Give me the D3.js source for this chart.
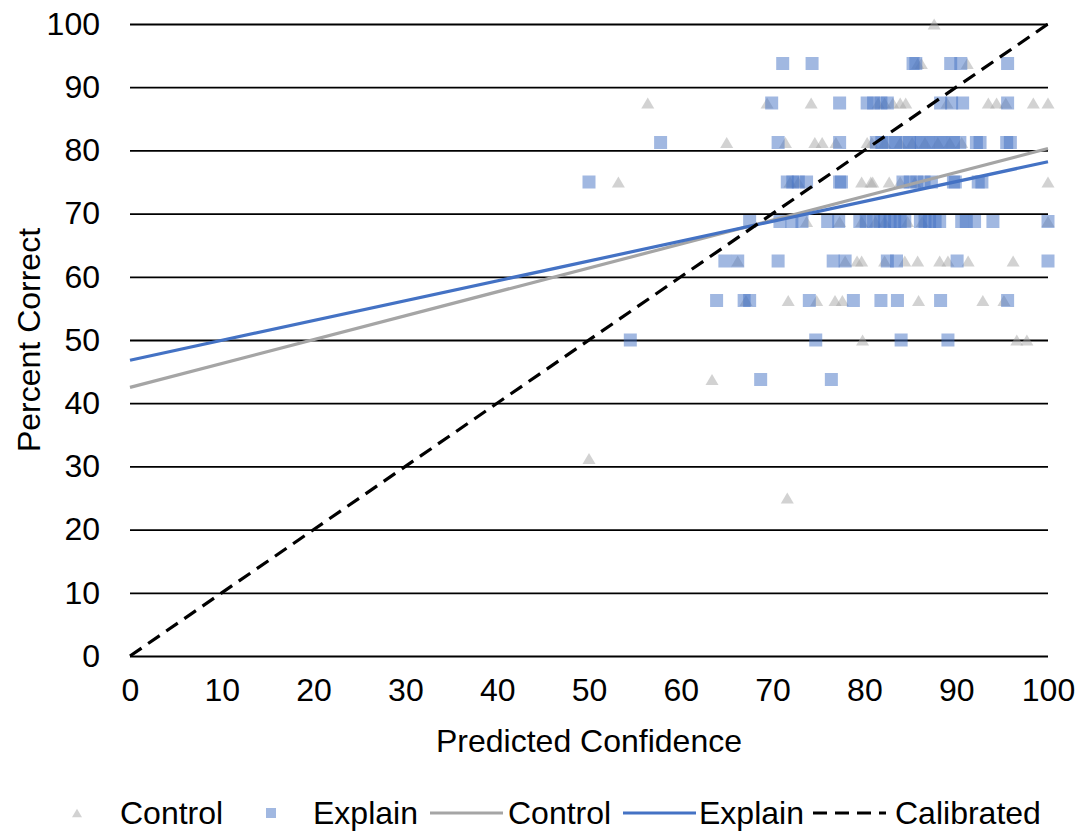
<!DOCTYPE html>
<html>
<head>
<meta charset="utf-8">
<script src="https://cdn.jsdelivr.net/npm/d3@7"></script>
<style>
  html, body { margin: 0; padding: 0; background: #fff; }
  svg { display: block; font-family: "Liberation Sans", Arial, sans-serif; }
</style>
</head>
<body>
<svg id="chart" width="1080" height="833"></svg>
<script>
// Individual responses: [predicted confidence, percent correct]
const controlPoints = [
  [87.6, 100],
  [85.8, 93.75], [86.2, 93.75], [91.2, 93.75],
  [56.4, 87.5], [69.4, 87.5], [74.2, 87.5], [81.5, 87.5], [82.2, 87.5], [83.1, 87.5],
  [83.9, 87.5], [84.5, 87.5], [89.0, 87.5], [93.5, 87.5], [94.4, 87.5], [95.4, 87.5],
  [98.4, 87.5], [100, 87.5],
  [65.0, 81.25], [71.4, 81.25], [74.6, 81.25], [75.4, 81.25], [76.9, 81.25], [80.3, 81.25],
  [80.8, 81.25], [82.2, 81.25], [83.9, 81.25], [85.2, 81.25], [86.6, 81.25], [88.0, 81.25],
  [89.3, 81.25], [90.6, 81.25],
  [53.2, 75], [71.9, 75], [72.8, 75], [79.7, 75], [80.7, 75], [80.9, 75], [82.7, 75],
  [83.9, 75], [85.5, 75], [100, 75],
  [73.7, 68.75], [77.3, 68.75], [79.7, 68.75], [81.2, 68.75], [82.2, 68.75], [84.7, 68.75],
  [86.3, 68.75], [100, 68.75],
  [66.2, 62.5], [77.9, 62.5], [79.2, 62.5], [79.7, 62.5], [82.2, 62.5], [84.4, 62.5],
  [85.8, 62.5], [88.2, 62.5], [89.1, 62.5], [91.3, 62.5], [96.2, 62.5],
  [67.1, 56.25], [71.7, 56.25], [74.8, 56.25], [76.8, 56.25], [77.6, 56.25], [85.9, 56.25],
  [92.9, 56.25], [95.2, 56.25],
  [79.8, 50], [96.6, 50], [97.7, 50],
  [63.4, 43.75],
  [50.0, 31.25],
  [71.6, 25]
];

const explainPoints = [
  [71.1, 93.75], [74.3, 93.75], [85.3, 93.75], [85.6, 93.75], [89.4, 93.75], [90.5, 93.75],
  [95.6, 93.75],
  [69.9, 87.5], [77.3, 87.5], [80.3, 87.5], [81.0, 87.5], [81.8, 87.5], [82.5, 87.5],
  [88.3, 87.5], [89.5, 87.5], [90.7, 87.5], [95.6, 87.5],
  [57.8, 81.25], [70.6, 81.25], [77.3, 81.25], [81.3, 81.25], [81.9, 81.25], [82.7, 81.25],
  [83.4, 81.25], [84.1, 81.25], [84.9, 81.25], [85.5, 81.25], [86.2, 81.25], [86.9, 81.25],
  [87.6, 81.25], [88.3, 81.25], [89.0, 81.25], [89.7, 81.25], [90.4, 81.25], [92.2, 81.25],
  [92.6, 81.25], [95.5, 81.25], [95.9, 81.25],
  [50.0, 75], [71.6, 75], [72.2, 75], [72.8, 75], [73.7, 75], [77.3, 75], [77.5, 75],
  [84.2, 75], [85.0, 75], [85.7, 75], [86.5, 75], [87.3, 75], [89.7, 75], [89.9, 75],
  [92.4, 75], [92.8, 75],
  [67.5, 68.75], [70.8, 68.75], [72.1, 68.75], [73.2, 68.75], [76.0, 68.75], [77.2, 68.75],
  [79.5, 68.75], [80.2, 68.75], [81.0, 68.75], [81.7, 68.75], [82.2, 68.75], [82.8, 68.75],
  [83.3, 68.75], [83.9, 68.75], [84.4, 68.75], [86.1, 68.75], [86.6, 68.75], [87.1, 68.75],
  [87.7, 68.75], [88.2, 68.75], [90.6, 68.75], [91.1, 68.75], [92.0, 68.75], [94.0, 68.75],
  [100, 68.75],
  [64.8, 62.5], [66.2, 62.5], [70.6, 62.5], [76.6, 62.5], [77.9, 62.5], [82.5, 62.5],
  [83.5, 62.5], [90.1, 62.5], [100, 62.5],
  [63.9, 56.25], [66.9, 56.25], [67.5, 56.25], [74.0, 56.25], [78.8, 56.25], [81.8, 56.25],
  [83.6, 56.25], [88.3, 56.25], [95.6, 56.25],
  [54.5, 50], [74.7, 50], [84.0, 50], [89.1, 50],
  [68.7, 43.75], [76.4, 43.75]
];

// Linear trend lines (endpoints at confidence 0 and 100) and the calibration reference
const controlTrend = [[0, 42.5], [100, 80.3]];
const explainTrend = [[0, 46.8], [100, 78.2]];
const calibratedLine = [[0, 0], [100, 100]];

const xTicks = [0, 10, 20, 30, 40, 50, 60, 70, 80, 90, 100];
const yTicks = [0, 10, 20, 30, 40, 50, 60, 70, 80, 90, 100];

const legendItems = [
  { label: "Control", kind: "triangle" },
  { label: "Explain", kind: "square" },
  { label: "Control", kind: "line", color: "#A5A5A5" },
  { label: "Explain", kind: "line", color: "#4472C4" },
  { label: "Calibrated", kind: "dash" }
];

const GRAY = "#A5A5A5";
const BLUE = "#4472C4";
const FONT = 32;
const DASH = "14,8";

const svg = d3.select("#chart");
const plotLeft = 130, plotRight = 1048, plotTop = 24, plotBottom = 656;

const x = d3.scaleLinear().domain([0, 100]).range([plotLeft, plotRight]);
const y = d3.scaleLinear().domain([0, 100]).range([plotBottom, plotTop]);

// Horizontal gridlines with left tick labels
const yAxis = svg.append("g")
  .attr("transform", `translate(${plotLeft},0)`)
  .call(d3.axisLeft(y).tickValues(yTicks).tickSize(-(plotRight - plotLeft)).tickPadding(30));
yAxis.select(".domain").remove();
yAxis.selectAll(".tick line").attr("stroke", "#000").attr("stroke-width", 1.8);
yAxis.selectAll(".tick text").attr("font-size", FONT).attr("fill", "#000")
  .attr("font-family", "Liberation Sans, Arial, sans-serif");

// Bottom tick labels
const xAxis = svg.append("g")
  .attr("transform", `translate(0,${plotBottom})`)
  .call(d3.axisBottom(x).tickValues(xTicks).tickSize(0).tickPadding(22));
xAxis.select(".domain").remove();
xAxis.selectAll(".tick text").attr("font-size", FONT).attr("fill", "#000")
  .attr("font-family", "Liberation Sans, Arial, sans-serif");

// Axis titles
svg.append("text")
  .attr("x", (plotLeft + plotRight) / 2).attr("y", 752)
  .attr("text-anchor", "middle").attr("font-size", FONT).attr("fill", "#000")
  .text("Predicted Confidence");
svg.append("text")
  .attr("transform", `translate(40,${(plotTop + plotBottom) / 2}) rotate(-90)`)
  .attr("text-anchor", "middle").attr("font-size", FONT).attr("fill", "#000")
  .text("Percent Correct");

// Marker shapes
function trianglePath(w) {
  const h = w * 0.85;
  return `M0,${-h / 2}L${w / 2},${h / 2}L${-w / 2},${h / 2}Z`;
}
function squarePath(w) {
  return `M${-w / 2},${-w / 2}h${w}v${w}h${-w}Z`;
}

// Scatter series
svg.append("g").selectAll("path")
  .data(controlPoints).join("path")
  .attr("d", trianglePath(13))
  .attr("transform", d => `translate(${x(d[0])},${y(d[1])})`)
  .attr("fill", GRAY).attr("fill-opacity", 0.5);

svg.append("g").selectAll("path")
  .data(explainPoints).join("path")
  .attr("d", squarePath(13))
  .attr("transform", d => `translate(${x(d[0])},${y(d[1])})`)
  .attr("fill", BLUE).attr("fill-opacity", 0.5);

// Trend lines and calibration line
const line = d3.line().x(d => x(d[0])).y(d => y(d[1]));
svg.append("path").datum(controlTrend).attr("d", line)
  .attr("fill", "none").attr("stroke", GRAY).attr("stroke-width", 3.2);
svg.append("path").datum(explainTrend).attr("d", line)
  .attr("fill", "none").attr("stroke", BLUE).attr("stroke-width", 3.2);
svg.append("path").datum(calibratedLine).attr("d", line)
  .attr("fill", "none").attr("stroke", "#000").attr("stroke-width", 3.2)
  .attr("stroke-dasharray", DASH);

// Legend
const legendY = 813;
const legendX = [77, 271, 430, 623, 813];
const legendTextX = [120, 313, 508, 699, 895];
const lg = svg.append("g");
legendItems.forEach((item, i) => {
  const g = lg.append("g");
  if (item.kind === "triangle") {
    g.append("path").attr("d", trianglePath(10))
      .attr("transform", `translate(${legendX[i]},${legendY})`)
      .attr("fill", GRAY).attr("fill-opacity", 0.5);
  } else if (item.kind === "square") {
    g.append("path").attr("d", squarePath(10))
      .attr("transform", `translate(${legendX[i]},${legendY})`)
      .attr("fill", BLUE).attr("fill-opacity", 0.5);
  } else {
    g.append("line")
      .attr("x1", legendX[i]).attr("x2", legendX[i] + 73)
      .attr("y1", legendY).attr("y2", legendY)
      .attr("stroke", item.kind === "dash" ? "#000" : item.color)
      .attr("stroke-width", 3.2)
      .attr("stroke-dasharray", item.kind === "dash" ? DASH : null);
  }
  g.append("text").attr("x", legendTextX[i]).attr("y", legendY)
    .attr("dy", "0.35em").attr("font-size", FONT).attr("fill", "#000")
    .text(item.label);
});
</script>
</body>
</html>
